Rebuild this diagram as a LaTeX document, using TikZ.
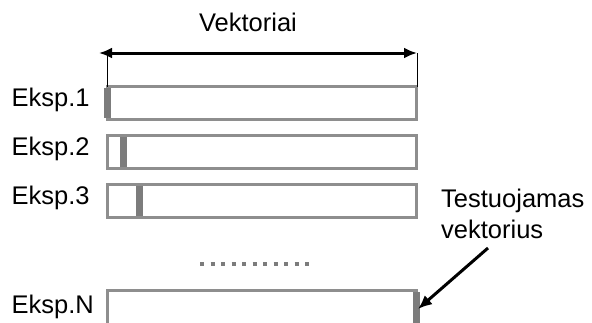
\documentclass[tikz,border=0pt]{standalone}
\usepackage{fontspec}
\setmainfont{Liberation Sans}
\usetikzlibrary{arrows.meta}
\definecolor{boxgray}{HTML}{8E8E8E}
\definecolor{markgray}{HTML}{7C7C7C}
\begin{document}
\begin{tikzpicture}[x=1pt,y=-1pt,
  lbl/.style={inner sep=0pt,anchor=base west,font=\fontsize{25.5}{31}\selectfont},
  vbox/.style={draw=boxgray,line width=3pt,minimum width=309pt,minimum height=33pt,inner sep=0pt,outer sep=0pt,anchor=north west},
  marker/.style={fill=markgray},
  dimarrow/.style={line width=3pt,{Latex[length=13pt,width=11pt]}-{Latex[length=13pt,width=11pt]}},
  thin/.style={line width=1pt},
  pointer/.style={line width=3pt,-{Latex[length=14pt,width=12pt]}},
  dots/.style={draw=markgray,line width=4pt,dash pattern=on 4pt off 6.5pt}
]
\useasboundingbox (0,0) rectangle (592,322);
\begin{scope}
\clip (0,0) rectangle (592,322);
% boxes
\node[vbox] (b1) at (107,86.5) {};
\node[vbox] (b2) at (107,135) {};
\node[vbox] (b3) at (107,184) {};
\node[vbox,minimum height=45pt] (bN) at (107,290.5) {};
% markers
\fill[marker] ([xshift=-3.5pt,yshift=-1.5pt]b1.north west) rectangle ([xshift=3.5pt,yshift=1.5pt]b1.south west);
\fill[marker] ([xshift=13pt,yshift=-1.5pt]b2.north west) rectangle ([xshift=20pt,yshift=1.5pt]b2.south west);
\fill[marker] ([xshift=29pt,yshift=-1.5pt]b3.north west) rectangle ([xshift=36pt,yshift=1.5pt]b3.south west);
\fill[marker] ([xshift=-3.5pt,yshift=-1.5pt]bN.north east) rectangle ([xshift=3.5pt,yshift=1.5pt]bN.south east);
% labels
\node[lbl] (l1) at (11.5,106.7) {Eksp.1};
\node[lbl] (l2) at (11.5,155) {Eksp.2};
\node[lbl] (l3) at (11.5,204) {Eksp.3};
\node[lbl] (lN) at (11.5,313) {Eksp.N};
% dimension arrow
\coordinate (tl) at (107,53);
\coordinate (tr) at (417,53);
\coordinate (al) at (99,53);
\draw[thin] (b1.north west) -- (tl);
\draw[thin] ([xshift=1pt]b1.north east) -- (tr);
\draw[dimarrow] (al) -- (tr);
\node[inner sep=0pt,anchor=base,font=\fontsize{25.5}{31}\selectfont] (vek) at (248,31.7) {Vektoriai};
% dots
\coordinate (d1) at (200,264);
\coordinate (d2) at (313,264);
\draw[dots] (d1) -- (d2);
% tested vector
\node[lbl] (t1) at (441,207) {Testuojamas};
\node[lbl] (t2) at (441,238) {vektorius};
\coordinate (ps) at (488,248);
\coordinate (pe) at (418,309);
\draw[pointer] (ps) -- (pe);
\end{scope}
\end{tikzpicture}
\end{document}
